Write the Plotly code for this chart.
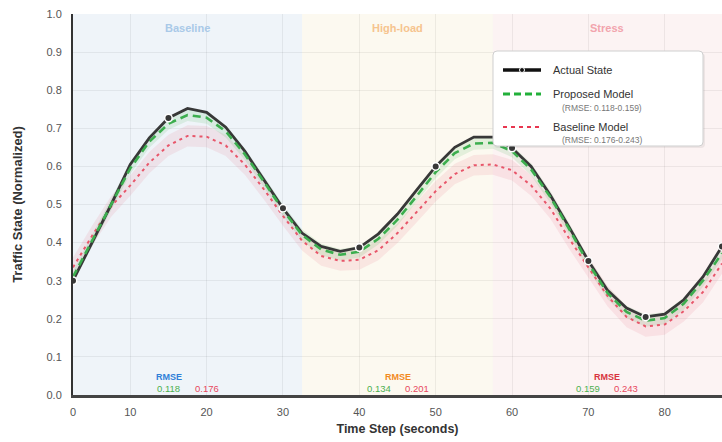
import plotly.graph_objects as go

# ---------------- data ----------------
time_s = [2.5, 5, 7.5, 10, 12.5, 15, 17.5, 20, 22.5, 25, 27.5, 30, 32.5, 35, 37.5,
          40, 42.5, 45, 47.5, 50, 52.5, 55, 57.5, 60, 62.5, 65, 67.5, 70, 72.5, 75,
          77.5, 80, 82.5, 85, 87.5]
actual = [0.30, 0.40, 0.50, 0.605, 0.675, 0.727, 0.752, 0.742, 0.703, 0.64, 0.565,
          0.49, 0.425, 0.39, 0.377, 0.387, 0.423, 0.475, 0.538, 0.60, 0.65, 0.677,
          0.677, 0.648, 0.60, 0.525, 0.44, 0.352, 0.275, 0.228, 0.205, 0.212, 0.25,
          0.31, 0.39]
proposed = [0.31, 0.405, 0.50, 0.595, 0.665, 0.712, 0.735, 0.728, 0.692, 0.632, 0.56,
            0.485, 0.42, 0.382, 0.368, 0.376, 0.41, 0.46, 0.522, 0.585, 0.635, 0.66,
            0.662, 0.64, 0.592, 0.52, 0.435, 0.345, 0.268, 0.218, 0.195, 0.202, 0.24,
            0.30, 0.372]
baseline = [0.335, 0.418, 0.495, 0.55, 0.61, 0.655, 0.68, 0.678, 0.655, 0.605, 0.54,
            0.47, 0.405, 0.365, 0.352, 0.355, 0.38, 0.425, 0.48, 0.535, 0.58, 0.603,
            0.605, 0.59, 0.55, 0.49, 0.41, 0.335, 0.26, 0.205, 0.18, 0.185, 0.22,
            0.27, 0.345]
proposed_ci = [0.015, 0.015, 0.015, 0.015, 0.016, 0.016, 0.016, 0.016, 0.016, 0.015,
               0.015, 0.015, 0.015, 0.015, 0.015, 0.015, 0.015, 0.015, 0.015, 0.016,
               0.016, 0.016, 0.016, 0.016, 0.016, 0.016, 0.016, 0.016, 0.016, 0.016,
               0.016, 0.016, 0.016, 0.016, 0.016]
baseline_ci = [0.026, 0.026, 0.027, 0.027, 0.028, 0.028, 0.028, 0.028, 0.028, 0.027,
               0.027, 0.026, 0.026, 0.026, 0.026, 0.026, 0.026, 0.026, 0.027, 0.027,
               0.027, 0.027, 0.027, 0.027, 0.027, 0.027, 0.027, 0.027, 0.027, 0.027,
               0.027, 0.027, 0.027, 0.027, 0.027]
marker_times = [2.5, 15, 30, 40, 50, 60, 70, 77.5, 87.5]

regions = ["Baseline", "High-load", "Stress"]
region_start = [2.5, 32.5, 57.5]
region_end = [32.5, 57.5, 87.5]
rmse_proposed = [0.118, 0.134, 0.159]
rmse_baseline = [0.176, 0.201, 0.243]

series_names = ["Actual State", "Proposed Model", "Baseline Model"]

xtick_vals = [2.5, 10, 20, 30, 40, 50, 60, 70, 80]
xtick_text = ["0", "10", "20", "30", "40", "50", "60", "70", "80"]
ytick_vals = [0.0, 0.1, 0.2, 0.3, 0.4, 0.5, 0.6, 0.7, 0.8, 0.9, 1.0]

# ---------------- styles ----------------
FONT = "Liberation Sans, Arial, sans-serif"
C_ACT = "#383838"
C_PROP = "#3cae4e"
C_BASE = "#e8566a"
region_fill = ["rgba(120,165,205,0.12)", "rgba(235,215,160,0.16)", "rgba(230,160,165,0.13)"]
region_label_color = ["#a9c9e8", "#f6c48e", "#f2a4ad"]
rmse_title_color = ["#2f7fd8", "#f28a1e", "#d8343f"]

W, H = 722, 442
ML, MR, MT, MB = 73, 0, 14, 47
PW, PH = W - ML - MR, H - MT - MB


def px(xp):  # pixel x -> paper
    return (xp - ML) / PW


def py(yp):  # pixel y -> paper
    return (H - MB - yp) / PH


fig = go.Figure()

# confidence bands
base_lo = [v - c for v, c in zip(baseline, baseline_ci)]
base_hi = [v + c for v, c in zip(baseline, baseline_ci)]
prop_lo = [v - c for v, c in zip(proposed, proposed_ci)]
prop_hi = [v + c for v, c in zip(proposed, proposed_ci)]

fig.add_trace(go.Scatter(x=time_s, y=base_lo, mode="lines", line=dict(width=0),
                         showlegend=False, hoverinfo="skip"))
fig.add_trace(go.Scatter(x=time_s, y=base_hi, mode="lines", line=dict(width=0),
                         fill="tonexty", fillcolor="rgba(232,86,106,0.11)",
                         showlegend=False, hoverinfo="skip"))
fig.add_trace(go.Scatter(x=time_s, y=prop_lo, mode="lines", line=dict(width=0),
                         showlegend=False, hoverinfo="skip"))
fig.add_trace(go.Scatter(x=time_s, y=prop_hi, mode="lines", line=dict(width=0),
                         fill="tonexty", fillcolor="rgba(60,174,78,0.13)",
                         showlegend=False, hoverinfo="skip"))

# lines
fig.add_trace(go.Scatter(x=time_s, y=baseline, mode="lines", name=series_names[2],
                         line=dict(color=C_BASE, width=2, dash="3px,4px"),
                         showlegend=False))
fig.add_trace(go.Scatter(x=time_s, y=actual, mode="lines", name=series_names[0],
                         line=dict(color=C_ACT, width=2.8),
                         showlegend=False))
fig.add_trace(go.Scatter(x=time_s, y=proposed, mode="lines", name=series_names[1],
                         line=dict(color=C_PROP, width=2.6, dash="8px,5px"),
                         showlegend=False))
mk_y = [actual[time_s.index(t)] for t in marker_times]
fig.add_trace(go.Scatter(x=marker_times, y=mk_y, mode="markers",
                         marker=dict(color=C_ACT, size=7.5, line=dict(color="white", width=1.5)),
                         showlegend=False))

shapes = []
annotations = []
for i, name in enumerate(regions):
    shapes.append(dict(type="rect", xref="x", yref="paper", x0=region_start[i], x1=region_end[i],
                       y0=0, y1=1, fillcolor=region_fill[i], line=dict(width=0), layer="below"))
    cx = (region_start[i] + region_end[i]) / 2
    annotations.append(dict(x=cx, y=0.963, xref="x", yref="paper", text="<b>%s</b>" % name,
                            yanchor="middle",
                            showarrow=False, font=dict(size=11, color=region_label_color[i], family=FONT)))
    annotations.append(dict(x=cx, y=0.047, xref="x", yref="paper", text="<b>RMSE</b>",
                            xshift=-19 if i == 0 else 0, yanchor="middle",
                            showarrow=False, font=dict(size=9, color=rmse_title_color[i], family=FONT)))
    annotations.append(dict(x=cx, y=0.016, xref="x", yref="paper", text="%.3f" % rmse_proposed[i],
                            xshift=-19, yanchor="middle",
                            showarrow=False, font=dict(size=9.5, color="#4cb050", family=FONT)))
    annotations.append(dict(x=cx, y=0.016, xref="x", yref="paper", text="%.3f" % rmse_baseline[i],
                            xshift=19, yanchor="middle",
                            showarrow=False, font=dict(size=9.5, color="#e8485e", family=FONT)))


# ---------------- custom legend box (layout decoration) ----------------
def rounded_rect(x0, y0, x1, y1, r):
    X0, X1 = px(x0), px(x1)
    Y0, Y1 = py(y0), py(y1)
    rx, ry = r / PW, r / PH
    return (f"M{X0+rx},{Y0} L{X1-rx},{Y0} Q{X1},{Y0} {X1},{Y0-ry} "
            f"L{X1},{Y1+ry} Q{X1},{Y1} {X1-rx},{Y1} L{X0+rx},{Y1} Q{X0},{Y1} {X0},{Y1+ry} "
            f"L{X0},{Y0-ry} Q{X0},{Y0} {X0+rx},{Y0} Z")


LX0, LY0, LX1, LY1 = 493, 51, 703, 146
shapes.append(dict(type="path", xref="paper", yref="paper", layer="above",
                   path=rounded_rect(LX0 + 1, LY0 + 2, LX1 + 2, LY1 + 2, 4),
                   fillcolor="rgba(0,0,0,0.06)", line=dict(width=0)))
shapes.append(dict(type="path", xref="paper", yref="paper", layer="above",
                   path=rounded_rect(LX0, LY0, LX1, LY1, 4),
                   fillcolor="white", line=dict(color="#cfcfcf", width=1)))

row_y = [70, 94, 127]
sub_y = [None, 108, 140]
swatch = [dict(color="#111", width=3.5, dash="solid"),
          dict(color="#22b03a", width=3, dash="7px,4px"),
          dict(color="#e8364f", width=2, dash="4px,4px")]
sub_text = [None,
            "(RMSE: %.3f-%.3f)" % (min(rmse_proposed), max(rmse_proposed)),
            "(RMSE: %.3f-%.3f)" % (min(rmse_baseline), max(rmse_baseline))]
for k in range(3):
    shapes.append(dict(type="line", xref="paper", yref="paper", layer="above",
                       x0=px(503), x1=px(541), y0=py(row_y[k]), y1=py(row_y[k]),
                       line=swatch[k]))
    annotations.append(dict(x=px(551), y=py(row_y[k]), xref="paper", yref="paper",
                            xanchor="left", yanchor="middle", showarrow=False,
                            text=series_names[k], font=dict(size=11, color="#333", family=FONT)))
    if sub_text[k]:
        annotations.append(dict(x=px(560), y=py(sub_y[k]), xref="paper", yref="paper",
                                xanchor="left", yanchor="middle", showarrow=False,
                                text=sub_text[k], font=dict(size=8.5, color="#777", family=FONT)))
# dot in the "Actual State" swatch
shapes.append(dict(type="circle", xref="paper", yref="paper", layer="above",
                   x0=px(519.5), x1=px(524.5), y0=py(row_y[0] + 2.5), y1=py(row_y[0] - 2.5),
                   fillcolor="#111", line=dict(color="white", width=1)))

fig.update_layout(
    width=W, height=H,
    margin=dict(l=ML, r=MR, t=MT, b=MB),
    paper_bgcolor="white", plot_bgcolor="white",
    font=dict(family=FONT, size=11, color="#555"),
    shapes=shapes, annotations=annotations, showlegend=False,
    xaxis=dict(range=[2.5, 87.5], tickmode="array", tickvals=xtick_vals, ticktext=xtick_text,
               showgrid=True, gridcolor="rgba(0,0,0,0.06)", zeroline=False,
               showline=True, linecolor="#444", linewidth=2.5, ticks="", ticklabelstandoff=5,
               tickfont=dict(size=11, color="#555"),
               title=dict(text="<b>Time Step (seconds)</b>", font=dict(size=12.5, color="#333"),
                          standoff=8)),
    yaxis=dict(range=[0, 1.0], tickmode="array", tickvals=ytick_vals,
               ticktext=["%.1f" % v for v in ytick_vals],
               showgrid=True, gridcolor="rgba(0,0,0,0.06)", zeroline=False,
               showline=True, linecolor="#333", linewidth=2, ticks="", ticklabelstandoff=7,
               tickfont=dict(size=11, color="#555"),
               title=dict(text="<b>Traffic State (Normalized)</b>", font=dict(size=13, color="#333"),
                          standoff=21)),
)

fig.write_html("out.html")
